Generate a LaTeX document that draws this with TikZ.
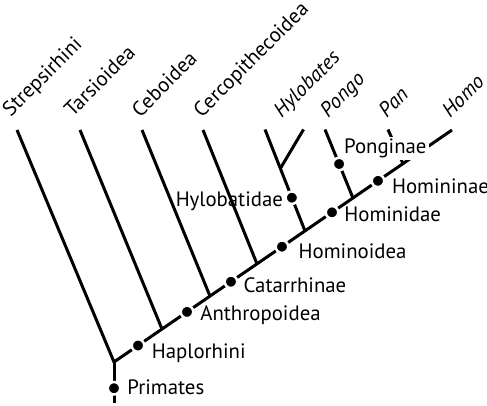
\documentclass[tikz,border=0pt]{standalone}
\usepackage{fontspec}
\setmainfont{PT Sans}
\usetikzlibrary{calc}

\tikzset{
  branch/.style={line width=1.5pt},
  knot/.style={circle, fill=black, draw=white, line width=1.25pt,
    minimum size=6.25pt, inner sep=0pt},
  clade/.style={font=\fontsize{10.4}{12}\selectfont, inner sep=0pt, anchor=base west},
  taxon/.style={clade, rotate=45},
  genus/.style={taxon, font=\fontsize{10.4}{12}\selectfont\itshape},
}

\begin{document}
\begin{tikzpicture}[x=0.5pt, y=-0.5pt]
  \useasboundingbox (0,0) rectangle (487,406);

  % tips
  \coordinate (Strep) at (17,130);
  \coordinate (Tars) at (80,130);
  \coordinate (Cebo) at (142,130);
  \coordinate (Cerc) at (203,130);
  \coordinate (HylL) at (265,129.5);
  \coordinate (HylR) at (303.5,129.5);
  \coordinate (Pongo) at (325,129.5);
  \coordinate (Pan) at (388,129.5);
  \coordinate (Homo) at (452,130);

  % root and stem
  \coordinate (R) at (114,362);
  \coordinate (Bot) at (114,403);

  % joins on the main line
  \coordinate (jTars) at ($(R)!0.142!(Homo)$);
  \coordinate (jCebo) at ($(R)!0.284!(Homo)$);
  \coordinate (jCerc) at ($(R)!0.423!(Homo)$);
  \coordinate (jHyl) at ($(R)!0.565!(Homo)$);
  \coordinate (jPon) at ($(R)!0.707!(Homo)$);
  \coordinate (jPan) at ($(R)!0.855!(Homo)$);
  \coordinate (fHyl) at ($(HylL)!0.384!(jHyl)$);

  \draw[branch] (Strep) -- (R) -- (Homo);
  \draw[branch] (Bot) -- (R);
  \draw[branch] (Tars) -- (jTars);
  \draw[branch] (Cebo) -- (jCebo);
  \draw[branch] (Cerc) -- (jCerc);
  \draw[branch] (HylL) -- (jHyl);
  \draw[branch] (HylR) -- (fHyl);
  \draw[branch] (Pongo) -- (jPon);
  \draw[branch] (Pan) -- (jPan);

  % clade dots
  \node[knot] (pri) at ($(R)!0.64!(Bot)$) {};
  \node[knot] (hap) at ($(R)!0.071!(Homo)$) {};
  \node[knot] (ant) at ($(R)!0.216!(Homo)$) {};
  \node[knot] (cat) at ($(R)!0.346!(Homo)$) {};
  \node[knot] (hoi) at ($(R)!0.497!(Homo)$) {};
  \node[knot] (hoe) at ($(R)!0.645!(Homo)$) {};
  \node[knot] (hon) at ($(R)!0.781!(Homo)$) {};
  \node[knot] (hyl) at ($(HylL)!0.672!(jHyl)$) {};
  \node[knot] (pon) at ($(Pongo)!0.504!(jPon)$) {};

  % clade names
  \node[clade] (lPri) at (127,394.3) {Primates};
  \node[clade] (lHap) at (151.5,358.3) {Haplorhini};
  \node[clade] (lAnt) at (200,321) {Anthropoidea};
  \node[clade] (lCat) at (243.3,292.7) {Catarrhinae};
  \node[clade] (lHoi) at (298.3,258.3) {Hominoidea};
  \node[clade, anchor=base east] (lHyl) at (283.3,206.7) {Hylobatidae};
  \node[clade] (lHoe) at (344,221.7) {Hominidae};
  \node[clade] (lHon) at (391.7,193.3) {Homininae};
  \node[clade, fill=white, inner sep=1pt] (lPon) at (341.7,153.3) {Ponginae};

  % taxa
  \node[taxon] (tStrep) at (10.5,118) {Strepsirhini};
  \node[taxon] (tTars) at (72.5,118) {Tarsioidea};
  \node[taxon] (tCebo) at (140,118.3) {Ceboidea};
  \node[taxon] (tCerc) at (201.7,118.3) {Cercopithecoidea};
  \node[genus] (tHyl) at (281.5,118.3) {Hylobates};
  \node[genus] (tPongo) at (328,118.3) {Pongo};
  \node[genus] (tPan) at (386.7,119) {Pan};
  \node[genus] (tHomo) at (450,119) {Homo};
\end{tikzpicture}
\end{document}
